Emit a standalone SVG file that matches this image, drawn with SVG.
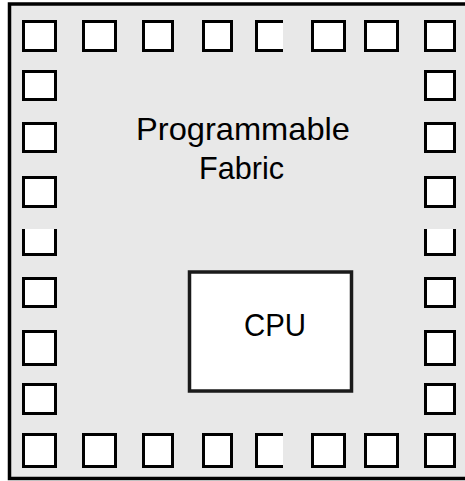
<svg xmlns="http://www.w3.org/2000/svg" width="465" height="481" viewBox="0 0 465 481">
<style>
.chip{fill:#e8e8e8;stroke:#000;stroke-width:3.5}
.pin{fill:#fff;stroke:#000;stroke-width:3}
.pinfill{fill:#fff;stroke:none}
.open{fill:none;stroke:#000;stroke-width:3}
.cpu{fill:#fff;stroke:#1a1a1a;stroke-width:3.5}
.lbl{font-family:"Liberation Sans",Arial,sans-serif;font-size:32px;fill:#000;text-anchor:middle}
</style>
<rect width="465" height="481" fill="#fff"/>
<g id="chip"><rect class="chip" x="9.5" y="4" width="462" height="474.5"/></g>
<g id="fabric-label">
<text class="lbl" x="243" y="140" textLength="214" lengthAdjust="spacingAndGlyphs">Programmable</text>
<text class="lbl" x="241.5" y="179" textLength="85" lengthAdjust="spacingAndGlyphs">Fabric</text>
</g>
<g id="cpu"><rect class="cpu" x="189.5" y="272" width="162" height="119"/>
<text class="lbl" x="275" y="336" textLength="62" lengthAdjust="spacingAndGlyphs">CPU</text></g>
<g id="pins">
<g id="pin-t1"><rect class="pin" x="23.5" y="21.5" width="32" height="29"/></g>
<g id="pin-t2"><rect class="pin" x="83.5" y="21.5" width="32" height="29"/></g>
<g id="pin-t3"><rect class="pin" x="143.5" y="21.5" width="29" height="29"/></g>
<g id="pin-t4"><rect class="pin" x="203.5" y="21.5" width="28" height="29"/></g>
<g id="pin-t5"><rect class="pinfill" x="255" y="20" width="28" height="32"/><path class="open" d="M283 21.5H256.5V50.5H283"/></g>
<g id="pin-t6"><rect class="pin" x="312.5" y="21.5" width="32" height="29"/></g>
<g id="pin-t7"><rect class="pin" x="365.5" y="21.5" width="32" height="29"/></g>
<g id="pin-t8"><rect class="pin" x="425.5" y="21.5" width="29" height="29"/></g>
<g id="pin-b1"><rect class="pin" x="23.5" y="434.5" width="32" height="32"/></g>
<g id="pin-b2"><rect class="pin" x="83.5" y="434.5" width="32" height="32"/></g>
<g id="pin-b3"><rect class="pin" x="143.5" y="434.5" width="29" height="32"/></g>
<g id="pin-b4"><rect class="pin" x="203.5" y="434.5" width="28" height="32"/></g>
<g id="pin-b5"><rect class="pinfill" x="255" y="433" width="28" height="35"/><path class="open" d="M283 434.5H256.5V466.5H283"/></g>
<g id="pin-b6"><rect class="pin" x="312.5" y="434.5" width="32" height="32"/></g>
<g id="pin-b7"><rect class="pin" x="365.5" y="434.5" width="32" height="32"/></g>
<g id="pin-b8"><rect class="pin" x="425.5" y="434.5" width="29" height="32"/></g>
<g id="pin-l1"><rect class="pin" x="23.5" y="71.5" width="32" height="28"/></g>
<g id="pin-l2"><rect class="pin" x="23.5" y="123.5" width="32" height="28"/></g>
<g id="pin-l3"><rect class="pin" x="23.5" y="177.5" width="32" height="29"/></g>
<g id="pin-l4"><rect class="pinfill" x="22" y="229" width="35" height="27"/><path class="open" d="M23.5 229V254.5H55.5V229"/></g>
<g id="pin-l5"><rect class="pin" x="23.5" y="278.5" width="32" height="28"/></g>
<g id="pin-l6"><rect class="pin" x="23.5" y="331.5" width="32" height="33"/></g>
<g id="pin-l7"><rect class="pin" x="23.5" y="384.5" width="32" height="29"/></g>
<g id="pin-r1"><rect class="pin" x="425.5" y="71.5" width="29" height="28"/></g>
<g id="pin-r2"><rect class="pin" x="425.5" y="123.5" width="29" height="28"/></g>
<g id="pin-r3"><rect class="pin" x="425.5" y="177.5" width="29" height="29"/></g>
<g id="pin-r4"><rect class="pinfill" x="424" y="229" width="32" height="27"/><path class="open" d="M425.5 229V254.5H454.5V229"/></g>
<g id="pin-r5"><rect class="pin" x="425.5" y="278.5" width="29" height="28"/></g>
<g id="pin-r6"><rect class="pin" x="425.5" y="331.5" width="29" height="33"/></g>
<g id="pin-r7"><rect class="pin" x="425.5" y="384.5" width="29" height="29"/></g>
</g>
<g id="connectors"/>
</svg>
